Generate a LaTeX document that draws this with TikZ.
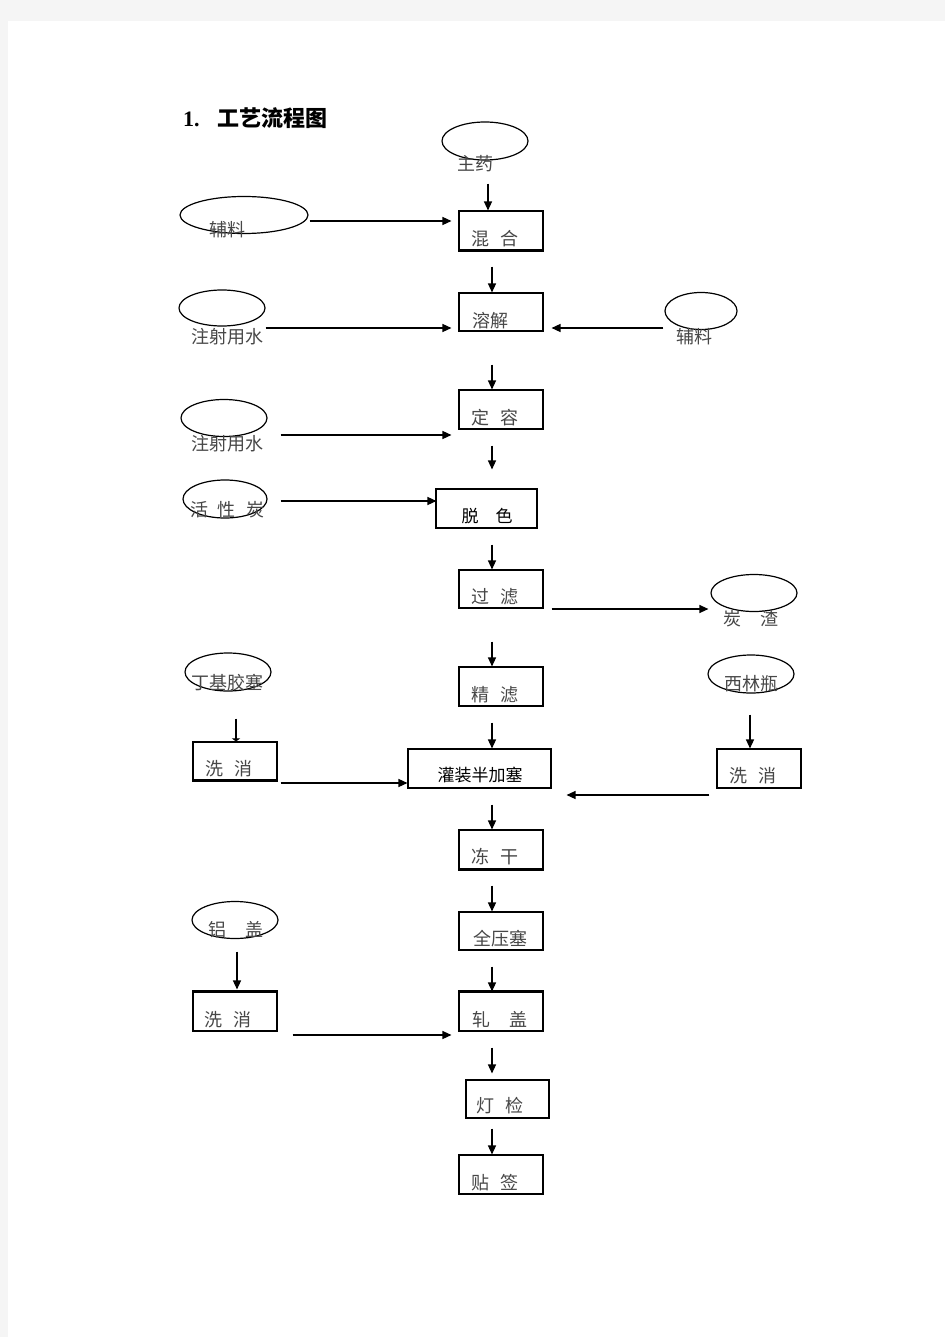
\documentclass[tikz,border=0pt]{standalone}
\usepackage{fontspec}
\setmainfont{Liberation Serif}
\newfontfamily\cjk{Noto Sans CJK SC}
\usepackage{tikz}
\usetikzlibrary{calc, shapes.geometric, arrows.meta}

\tikzset{
	oval/.style = {draw, ellipse, line width = 1.2, inner sep = 0pt},
	stepbox/.style = {draw, rectangle, line width = 1.1, inner sep = 0pt, minimum width = 84, minimum height = 39},
	lbl/.style = {font = \cjk\fontsize{18}{18}\selectfont, text = black!72, inner sep = 0pt},
	blbl/.style = {font = \cjk\fontsize{17}{17}\selectfont, text = black, inner sep = 0pt},
	arr/.style = {-{Triangle[length = 9pt, width = 8pt]}, line width = 1.3},
	edge/.style = {line width = 2.4},
}

\begin{document}
\begin{tikzpicture}[x = 1pt, y = -1pt]
	\fill [black!4] (0,0) rectangle (945,1337);
	\fill [white] (8,21) rectangle (945,1337);
	\useasboundingbox (0,0) rectangle (945,1337);
	
	\node [anchor = west, inner sep = 0pt, font = \fontsize{22}{22}\selectfont\bfseries] (title) at (183,118) {1.\hspace{18pt}{\cjk 工艺流程图}};
	
	% main column
	\coordinate (col) at (492,0);
	\node [stepbox] (hunhe) at (501,230.5) {};
	\node [stepbox, minimum height = 38] (rongjie) at (501,312) {};
	\node [stepbox] (dingrong) at (501,409.5) {};
	\node [stepbox, minimum width = 101] (tuose) at (486.5,508.5) {};
	\node [stepbox, minimum height = 38] (guolv) at (501,589) {};
	\node [stepbox] (jinglv) at (501,686.5) {};
	\node [stepbox, minimum width = 143] (guanzhuang) at (479.5,768.5) {};
	\node [stepbox] (donggan) at (501,849.5) {};
	\node [stepbox, minimum height = 38] (quanyasai) at (501,931) {};
	\node [stepbox] (zhagai) at (501,1011.5) {};
	\node [stepbox, minimum width = 83, minimum height = 38] (dengjian) at (507.5,1099) {};
	\node [stepbox] (tieqian) at (501,1174.5) {};
	
	% side boxes
	\node [stepbox, minimum height = 38] (xixiaoA) at (235,761) {};
	\node [stepbox] (xixiaoB) at (759,768.5) {};
	\node [stepbox] (xixiaoC) at (235,1011.5) {};
	
	\draw [edge] (hunhe.south west) -- (hunhe.south east);
	\draw [edge] (xixiaoA.south west) -- (xixiaoA.south east);
	\draw [edge] (donggan.south west) -- (donggan.south east);
	\draw [edge] (xixiaoC.north west) -- (xixiaoC.north east);
	\draw [edge] (zhagai.north west) -- (zhagai.north east);
	
	% ovals
	\node [oval, minimum width = 86, minimum height = 38] (zhuyao) at (485,141) {};
	\node [oval, minimum width = 128, minimum height = 37] (fuliaoA) at (244,215) {};
	\node [oval, minimum width = 86, minimum height = 36] (zhusheA) at (222,308) {};
	\node [oval, minimum width = 72, minimum height = 37] (fuliaoB) at (701,311) {};
	\node [oval, minimum width = 86, minimum height = 37] (zhusheB) at (224,418) {};
	\node [oval, minimum width = 84, minimum height = 38] (huoxingtan) at (225,499) {};
	\node [oval, minimum width = 86, minimum height = 37] (tanzha) at (754,593) {};
	\node [oval, minimum width = 86, minimum height = 38] (dingji) at (228,672) {};
	\node [oval, minimum width = 86, minimum height = 38] (xilinping) at (751,674) {};
	\node [oval, minimum width = 86, minimum height = 37] (lvgai) at (235,920) {};
	
	% labels
	\node [lbl] (zhuyao-t) at (475,164) {主药};
	\node [lbl] (fuliaoA-t) at (227,230) {辅料};
	\node [lbl] (zhusheA-t) at (227,337) {注射用水};
	\node [lbl] (fuliaoB-t) at (694,337) {辅料};
	\node [lbl] (zhusheB-t) at (227,444) {注射用水};
	\node [lbl] (huoxingtan-t) at (227,510) {活\hspace{10pt}性\hspace{10pt}炭};
	\node [lbl] (tanzha-t) at (751,619) {炭\hspace{19pt}渣};
	\node [lbl] (dingji-t) at (227,683) {丁基胶塞};
	\node [lbl] (xilinping-t) at (751,684) {西林瓶};
	\node [lbl] (lvgai-t) at (236,930) {铝\hspace{19pt}盖};
	
	\node [lbl] (hunhe-t) at (495,239) {混\hspace{11pt}合};
	\node [lbl] (rongjie-t) at (490,321) {溶解};
	\node [lbl] (dingrong-t) at (495,418) {定\hspace{11pt}容};
	\node [blbl] (tuose-t) at (487,516) {脱\hspace{17pt}色};
	\node [lbl] (guolv-t) at (495,597) {过\hspace{11pt}滤};
	\node [lbl] (jinglv-t) at (495,695) {精\hspace{11pt}滤};
	\node [blbl] (guanzhuang-t) at (480,775) {灌装半加塞};
	\node [lbl] (donggan-t) at (495,857) {冻\hspace{11pt}干};
	\node [lbl] (quanyasai-t) at (500,939) {全压塞};
	\node [lbl] (zhagai-t) at (500,1020) {轧\hspace{19pt}盖};
	\node [lbl] (dengjian-t) at (500,1106) {灯\hspace{11pt}检};
	\node [lbl] (tieqian-t) at (495,1183) {贴\hspace{11pt}签};
	\node [lbl] (xixiaoA-t) at (229,769) {洗\hspace{11pt}消};
	\node [lbl] (xixiaoB-t) at (753,776) {洗\hspace{11pt}消};
	\node [lbl] (xixiaoC-t) at (228,1020) {洗\hspace{11pt}消};
	
	% main flow
	\draw [arr] ($(zhuyao.south)+(3,23)$) -- ($(hunhe.north)+(-13,0)$);
	\draw [arr] ($(hunhe.south -| col)+(0,16)$) -- (rongjie.north -| col);
	\draw [arr] ($(rongjie.south -| col)+(0,33)$) -- (dingrong.north -| col);
	\draw [arr] ($(dingrong.south -| col)+(0,16)$) -- ($(tuose.north -| col)+(0,-19)$);
	\draw [arr] ($(tuose.south -| col)+(0,16)$) -- (guolv.north -| col);
	\draw [arr] ($(guolv.south -| col)+(0,33)$) -- (jinglv.north -| col);
	\draw [arr] ($(jinglv.south -| col)+(0,16)$) -- (guanzhuang.north -| col);
	\draw [arr] ($(guanzhuang.south -| col)+(0,16)$) -- (donggan.north -| col);
	\draw [arr] ($(donggan.south -| col)+(0,16)$) -- (quanyasai.north -| col);
	\draw [arr] ($(quanyasai.south -| col)+(0,16)$) -- (zhagai.north -| col);
	\draw [arr] ($(zhagai.south -| col)+(0,16)$) -- ($(dengjian.north -| col)+(0,-6)$);
	\draw [arr] ($(dengjian.south -| col)+(0,10)$) -- (tieqian.north -| col);
	
	% feeds
	\draw [arr] ($(fuliaoA.east)+(1,6)$) -- ($(hunhe.west)+(-7,-9.5)$);
	\draw [arr] ($(zhusheA.east)+(0,20)$) -- ($(rongjie.west)+(-7,16)$);
	\draw [arr] ($(fuliaoB.west)+(-1,17)$) -- ($(rongjie.east)+(8,16)$);
	\draw [arr] ($(zhusheB.east)+(13,17)$) -- ($(dingrong.west)+(-7,25.5)$);
	\draw [arr] ($(huoxingtan.east)+(13,2)$) -- ($(tuose.west)+(1,-7.5)$);
	\draw [arr] ($(guolv.east)+(8,20)$) -- ($(tanzha.west)+(-2,16)$);
	\draw [arr] ($(xixiaoA.east)+(3,22)$) -- ($(guanzhuang.west)+(0,14.5)$);
	\draw [arr] ($(xixiaoB.west)+(-7,26.5)$) -- ($(guanzhuang.east)+(15,26.5)$);
	\draw [arr] ($(xixiaoC.east)+(15,23.5)$) -- ($(zhagai.west)+(-7,23.5)$);
	
	% side inputs
	\draw [-{Triangle[length = 3pt, width = 8pt]}, line width = 1.3] ($(dingji.south)+(8,27)$) -- ($(xixiaoA.north)+(1,0)$);
	\draw [arr] ($(xilinping.south)+(-1,21)$) -- ($(xixiaoB.north)+(-9,0)$);
	\draw [arr] ($(lvgai.south)+(2,12.5)$) -- ($(xixiaoC.north)+(2,-2)$);
\end{tikzpicture}
\end{document}
